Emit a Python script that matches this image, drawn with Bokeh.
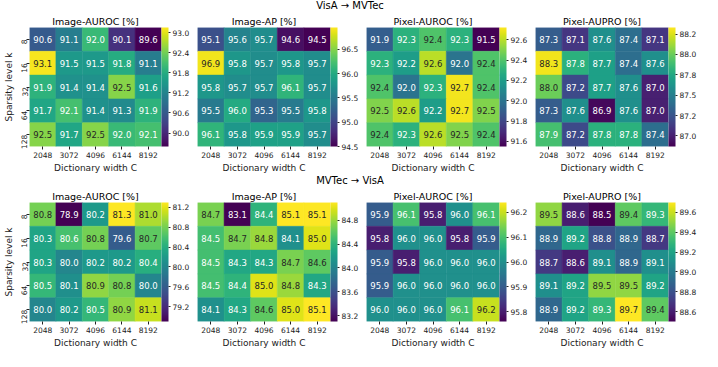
import math
from bokeh.plotting import figure
from bokeh.models import (LinearColorMapper, ColorBar, FixedTicker, FactorRange, Div,
                          ColumnDataSource)
from bokeh.layouts import column, row
from bokeh.palettes import Viridis256
from bokeh.embed import file_html
from bokeh.resources import INLINE
from bokeh.core.properties import value

# ---------------- data ----------------
dict_widths = ["2048", "3072", "4096", "6144", "8192"]
sparsity_k = ["8", "16", "32", "64", "128"]
metric_titles = ["Image-AUROC [%]", "Image-AP [%]", "Pixel-AUROC [%]", "Pixel-AUPRO [%]"]
section_titles = ["VisA \u2192 MVTec", "MVTec \u2192 VisA"]

# VisA -> MVTec (rows: k = 8,16,32,64,128 ; cols: C = 2048..8192)
vm_image_auroc = [[90.6, 91.1, 92.0, 90.1, 89.6],
                  [93.1, 91.5, 91.5, 91.8, 91.1],
                  [91.9, 91.4, 91.4, 92.5, 91.6],
                  [91.7, 92.1, 91.4, 91.3, 91.9],
                  [92.5, 91.7, 92.5, 92.0, 92.1]]
vm_image_ap = [[95.1, 95.6, 95.7, 94.6, 94.5],
               [96.9, 95.8, 95.7, 95.8, 95.7],
               [95.8, 95.7, 95.7, 96.1, 95.7],
               [95.5, 96.0, 95.3, 95.5, 95.8],
               [96.1, 95.8, 95.9, 95.9, 95.7]]
vm_pixel_auroc = [[91.9, 92.3, 92.4, 92.3, 91.5],
                  [92.3, 92.2, 92.6, 92.0, 92.4],
                  [92.4, 92.0, 92.3, 92.7, 92.4],
                  [92.5, 92.6, 92.2, 92.7, 92.5],
                  [92.4, 92.3, 92.6, 92.5, 92.4]]
vm_pixel_aupro = [[87.3, 87.1, 87.6, 87.4, 87.1],
                  [88.3, 87.8, 87.7, 87.4, 87.6],
                  [88.0, 87.2, 87.7, 87.6, 87.0],
                  [87.3, 87.6, 86.9, 87.6, 87.0],
                  [87.9, 87.2, 87.8, 87.8, 87.4]]

# MVTec -> VisA
mv_image_auroc = [[80.8, 78.9, 80.2, 81.3, 81.0],
                  [80.3, 80.6, 80.8, 79.6, 80.7],
                  [80.3, 80.0, 80.2, 80.2, 80.4],
                  [80.5, 80.1, 80.9, 80.8, 80.0],
                  [80.0, 80.2, 80.5, 80.9, 81.1]]
mv_image_ap = [[84.7, 83.1, 84.4, 85.1, 85.1],
               [84.5, 84.7, 84.8, 84.1, 85.0],
               [84.5, 84.3, 84.3, 84.7, 84.6],
               [84.5, 84.4, 85.0, 84.8, 84.3],
               [84.1, 84.3, 84.6, 85.0, 85.1]]
mv_pixel_auroc = [[95.9, 96.1, 95.8, 96.0, 96.1],
                  [95.8, 96.0, 96.0, 95.8, 95.9],
                  [95.9, 95.8, 96.0, 96.0, 96.0],
                  [95.9, 96.0, 96.0, 96.0, 96.0],
                  [96.0, 96.0, 96.0, 96.1, 96.2]]
mv_pixel_aupro = [[89.5, 88.6, 88.5, 89.4, 89.3],
                  [88.9, 89.2, 88.8, 88.9, 88.7],
                  [88.7, 88.6, 89.1, 88.9, 89.1],
                  [89.1, 89.2, 89.5, 89.5, 89.2],
                  [88.9, 89.2, 89.3, 89.7, 89.4]]

# colorbar ranges (estimated) and ticks
vm_ranges = [(89.6, 93.15), (94.5, 96.95), (91.55, 92.72), (86.87, 88.33)]
mv_ranges = [(78.9, 81.3), (83.1, 85.1), (95.76, 96.24), (88.5, 89.7)]
vm_ticks = [[90.0, 90.6, 91.2, 91.8, 92.4, 93.0],
            [94.5, 95.0, 95.5, 96.0, 96.5],
            [91.6, 91.8, 92.0, 92.2, 92.4, 92.6],
            [87.0, 87.25, 87.5, 87.75, 88.0, 88.25]]
vm_tick_labels = [["90.0", "90.6", "91.2", "91.8", "92.4", "93.0"],
                  ["94.5", "95.0", "95.5", "96.0", "96.5"],
                  ["91.6", "91.8", "92.0", "92.2", "92.4", "92.6"],
                  ["87.0", "87.2", "87.5", "87.8", "88.0", "88.2"]]
mv_ticks = [[79.2, 79.6, 80.0, 80.4, 80.8, 81.2],
            [83.2, 83.6, 84.0, 84.4, 84.8],
            [95.8, 95.9, 96.0, 96.1, 96.2],
            [88.6, 88.8, 89.0, 89.2, 89.4, 89.6]]
mv_tick_labels = [["79.2", "79.6", "80.0", "80.4", "80.8", "81.2"],
                  ["83.2", "83.6", "84.0", "84.4", "84.8"],
                  ["95.8", "95.9", "96.0", "96.1", "96.2"],
                  ["88.6", "88.8", "89.0", "89.2", "89.4", "89.6"]]

FONT = "DejaVu Sans"
DARK = "#262626"


def lum(hexcol):
    rgb = [int(hexcol[i:i + 2], 16) / 255 for i in (1, 3, 5)]
    lin = [c / 12.92 if c <= 0.03928 else ((c + 0.055) / 1.055) ** 2.4 for c in rgb]
    return 0.2126 * lin[0] + 0.7152 * lin[1] + 0.0722 * lin[2]


def make_heatmap(vals, title, rng, ticks, tlabels, first):
    low, high = rng
    mapper = LinearColorMapper(palette=Viridis256, low=low, high=high)
    xs, ys, vs, labels, tcs = [], [], [], [], []
    for i, k in enumerate(sparsity_k):
        for j, c in enumerate(dict_widths):
            v = vals[i][j]
            idx = int((v - low) / (high - low) * 256)
            idx = max(0, min(255, idx))
            col = Viridis256[idx]
            xs.append(c); ys.append(k); vs.append(v)
            labels.append(f"{v:.1f}")
            tcs.append(DARK if lum(col) > 0.408 else "white")
    src = ColumnDataSource(dict(w=xs, k=ys, v=vs, label=labels, tc=tcs))

    fig_w = 193 if first else 169
    p = figure(width=fig_w, height=163, x_range=FactorRange(*dict_widths),
               y_range=FactorRange(*reversed(sparsity_k)),
               output_backend="svg", toolbar_location=None, title=title,
               min_border_left=27 if first else 4, min_border_right=32,
               min_border_top=0, min_border_bottom=0)
    p.rect(x="w", y="k", width=1, height=1, source=src,
           fill_color={"field": "v", "transform": mapper},
           line_color={"field": "v", "transform": mapper}, line_width=0.5)
    p.text(x="w", y="k", text="label", source=src, text_color="tc",
           text_align="center", text_baseline="middle",
           text_font=value(FONT), text_font_size="8.5px")

    p.title.align = "center"
    p.title.text_font = FONT
    p.title.text_font_style = "normal"
    p.title.text_font_size = "9.5px"
    p.title.text_color = "black"
    p.title.standoff = 2
    p.title.offset = 0

    p.grid.visible = False
    p.outline_line_color = None
    for ax in (p.xaxis, p.yaxis):
        ax.axis_line_color = None
        ax.major_tick_in = 0
        ax.major_tick_out = 3
        ax.major_tick_line_color = "#222222"
        ax.major_label_text_font = FONT
        ax.major_label_text_font_size = "7.5px"
        ax.major_label_text_color = "#222222"
        ax.major_label_standoff = 2
        ax.axis_label_text_font = FONT
        ax.axis_label_text_font_size = "9px"
        ax.axis_label_text_font_style = "normal"
        ax.axis_label_text_color = "#222222"
        ax.axis_label_standoff = 2
    p.xaxis.axis_label = "Dictionary width C"
    if first:
        p.yaxis.axis_label = "Sparsity level k"
        p.yaxis.major_label_orientation = math.pi / 2
    else:
        p.yaxis.visible = False

    cb = ColorBar(color_mapper=mapper, ticker=FixedTicker(ticks=ticks),
                  major_label_overrides={t: l for t, l in zip(ticks, tlabels)},
                  width=7, margin=3, padding=0, location=(0, 0),
                  bar_line_color=None, major_tick_in=0, major_tick_out=2,
                  major_tick_line_color="#222222",
                  major_label_text_font=FONT, major_label_text_font_size="7.5px",
                  major_label_text_color="#222222", label_standoff=2,
                  background_fill_color=None)
    p.add_layout(cb, "right")
    return p


def section_div(text):
    return Div(text=text, width=700, height=12, margin=(0, 0, 0, 0),
               styles={"text-align": "center", "font-family": FONT,
                       "font-size": "10px", "line-height": "12px", "color": "black"})


vm_vals = [vm_image_auroc, vm_image_ap, vm_pixel_auroc, vm_pixel_aupro]
mv_vals = [mv_image_auroc, mv_image_ap, mv_pixel_auroc, mv_pixel_aupro]

row1 = row(*[make_heatmap(vm_vals[i], metric_titles[i], vm_ranges[i], vm_ticks[i],
                          vm_tick_labels[i], i == 0) for i in range(4)])
row2 = row(*[make_heatmap(mv_vals[i], metric_titles[i], mv_ranges[i], mv_ticks[i],
                          mv_tick_labels[i], i == 0) for i in range(4)])

layout = column(section_div(section_titles[0]), row1,
                section_div(section_titles[1]), row2)

open("out.html", "w").write(file_html(layout, INLINE))
